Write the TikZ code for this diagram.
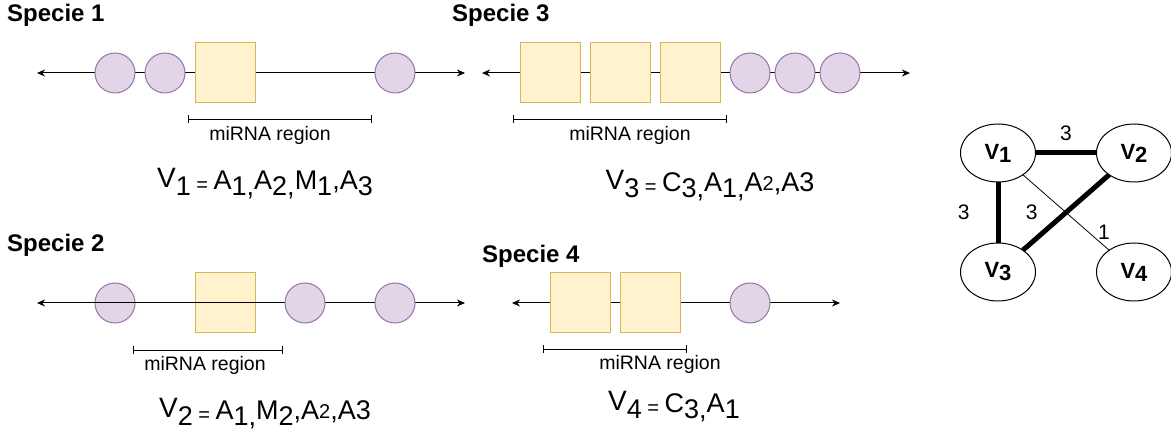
\documentclass[tikz,border=0pt]{standalone}
\usepackage{fontspec}
\setmainfont{Liberation Sans}
\usepackage{tikz}
\usetikzlibrary{positioning,arrows.meta,shapes.geometric}

\definecolor{elemfill}{HTML}{E1D5E7}
\definecolor{elemdraw}{HTML}{9673A6}
\definecolor{mirfill}{HTML}{FFF2CC}
\definecolor{mirdraw}{HTML}{D6B656}

\newcommand{\sbd}[1]{\raisebox{-6pt}{#1}}
\newcommand{\eqd}{\raisebox{-2pt}{\fontsize{20}{20}\selectfont\ =\ }}
\newcommand{\Vbig}{\raisebox{2.5pt}{\fontsize{28}{28}\selectfont V}}
\newcommand{\smtwo}{\raisebox{1pt}{\fontsize{20}{20}\selectfont 2}}

\tikzset{
  elem/.style={circle, draw=elemdraw, fill=elemfill, line width=1pt, minimum size=40pt, inner sep=0pt, outer sep=0pt},
  mir/.style={rectangle, draw=mirdraw, fill=mirfill, line width=1pt, minimum size=60pt, inner sep=0pt, outer sep=0pt},
  strand/.style={line width=1pt, {Stealth[length=8pt,width=7pt]}-{Stealth[length=8pt,width=7pt]}},
  region/.style={line width=0.8pt, {Bar[width=8pt]}-{Bar[width=8pt]}},
  title/.style={anchor=base west, inner sep=0pt, font=\fontsize{24}{24}\selectfont\bfseries},
  rlabel/.style={anchor=base, inner sep=0pt, font=\fontsize{19.5}{20}\selectfont},
  formula/.style={anchor=base, inner sep=0pt, font=\fontsize{27}{27}\selectfont},
  vtx/.style={ellipse, draw, line width=1pt, minimum width=75pt, minimum height=58pt, inner sep=0pt, outer sep=0pt, font=\fontsize{22}{22}\selectfont\bfseries},
  wt/.style={font=\fontsize{21}{21}\selectfont, inner sep=0pt}
}

\begin{document}
\begin{tikzpicture}[x=1pt, y=-1pt]
\useasboundingbox (0,0) rectangle (1171,435);

% Specie 1
\node[title] (t1) at (7,22) {Specie 1};
\coordinate (s1a) at (37,73);
\coordinate (s1b) at (465,73);
\draw[strand] (s1a) -- (s1b);
\node[elem] (c11) at (115,73) {};
\node[elem, right=10pt of c11] (c12) {};
\node[mir, right=10pt of c12] (m11) {};
\node[elem] (c13) at (395,73) {};
\coordinate (r1a) at (188,119);
\coordinate (r1b) at (372,119);
\draw[region] (r1a) -- (r1b);
\node[rlabel] (l1) at (270,141) {miRNA region};
\node[formula] (f1) at (265,190) {\Vbig\sbd{1}\eqd A\sbd{1,}A\sbd{2,}M\sbd{1},A\sbd{3}};

% Specie 3
\node[title] (t3) at (452,22) {Specie 3};
\coordinate (s3a) at (482,73);
\coordinate (s3b) at (910,73);
\draw[strand] (s3a) -- (s3b);
\node[mir] (m31) at (550,73) {};
\node[mir, right=10pt of m31] (m32) {};
\node[mir, right=10pt of m32] (m33) {};
\node[elem, right=10pt of m33] (c31) {};
\node[elem, right=5pt of c31] (c32) {};
\node[elem, right=5pt of c32] (c33) {};
\coordinate (r3a) at (513,119);
\coordinate (r3b) at (727,119);
\draw[region] (r3a) -- (r3b);
\node[rlabel] (l3) at (630,141) {miRNA region};
\node[formula] (f3) at (710,192) {\Vbig\sbd{3}\eqd C\sbd{3,}A\sbd{1,}A\smtwo,A3};

% Specie 2
\node[title] (t2) at (7,252) {Specie 2};
\coordinate (s2a) at (37,303);
\coordinate (s2b) at (465,303);
\node[elem] (c21) at (115,303) {};
\node[mir] (m21) at (225,303) {};
\draw[strand] (s2a) -- (s2b);
\node[elem] (c22) at (305,303) {};
\node[elem] (c23) at (395,303) {};
\coordinate (r2a) at (133,350);
\coordinate (r2b) at (283,350);
\draw[region] (r2a) -- (r2b);
\node[rlabel] (l2) at (205,371) {miRNA region};
\node[formula] (f2) at (265,420) {\Vbig\sbd{2}\eqd A\sbd{1,}M\sbd{2},A\smtwo,A3};

% Specie 4
\node[title] (t4) at (482,263) {Specie 4};
\coordinate (s4a) at (512,303);
\coordinate (s4b) at (840,303);
\draw[strand] (s4a) -- (s4b);
\node[mir] (m41) at (580,303) {};
\node[mir, right=10pt of m41] (m42) {};
\node[elem] (c41) at (750,303) {};
\coordinate (r4a) at (543,349);
\coordinate (r4b) at (687,349);
\draw[region] (r4a) -- (r4b);
\node[rlabel] (l4) at (660,370) {miRNA region};
\node[formula] (f4) at (674,413) {\Vbig\sbd{4}\eqd C\sbd{3,}A\sbd{1}};

% graph
\node[vtx] (V1) at (998,153) {V\raisebox{-3pt}{1}};
\node[vtx, right=61pt of V1] (V2) {V\raisebox{-3pt}{2}};
\node[vtx, below=61pt of V1] (V3) {V\raisebox{-3pt}{3}};
\node[vtx, right=61pt of V3] (V4) {V\raisebox{-3pt}{4}};
\draw[line width=5pt] (V1) -- node[wt, above=10pt] (w12) {3} (V2);
\draw[line width=5pt] (V1) -- node[wt, left=26pt] (w13) {3} (V3);
\draw[line width=5pt] (V2) -- node[wt, left=26pt] (w23) {3} (V3);
\draw[line width=0.8pt] (V1) -- node[wt, pos=0.8, xshift=12pt, yshift=3pt] (w14) {1} (V4);
\end{tikzpicture}
\end{document}
